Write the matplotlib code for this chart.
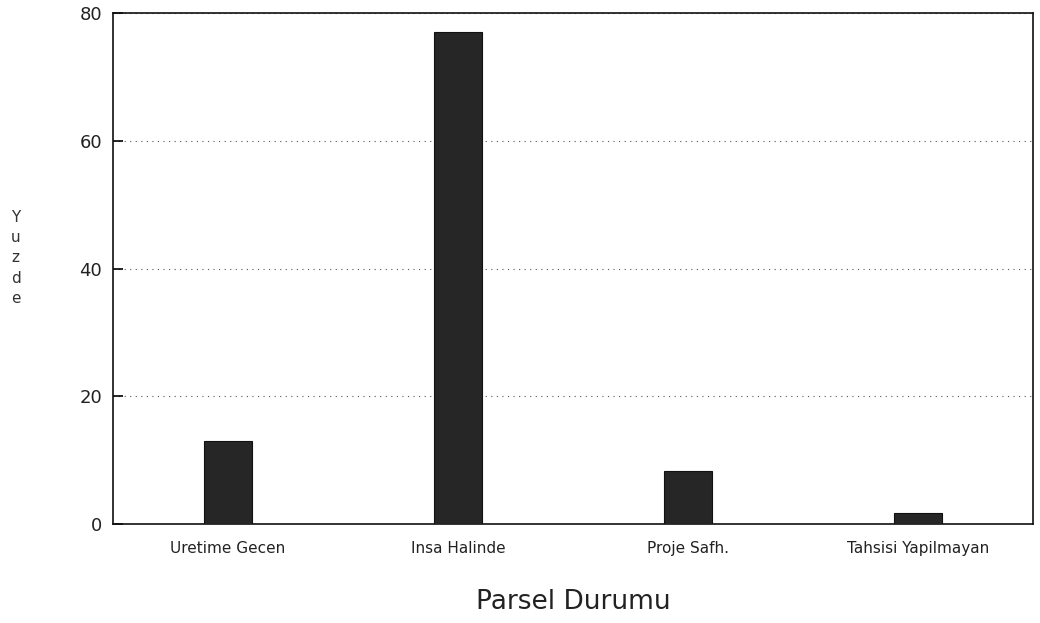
import matplotlib
matplotlib.use("Agg")
import matplotlib.pyplot as plt

# Parsel durumu yuzdeleri
categories = ["Uretime Gecen", "Insa Halinde", "Proje Safh.", "Tahsisi Yapilmayan"]
values = [13.0, 77.0, 8.3, 1.7]
yticks = [0, 20, 40, 60, 80]

fig = plt.figure(figsize=(10.4, 6.23), dpi=100)
ax = fig.add_axes([0.1087, 0.159, 0.8846, 0.820])

x = list(range(len(categories)))
ax.bar(x, values, width=0.21, color="#262626", edgecolor="#111111", linewidth=0.8, zorder=3)

ax.set_xlim(-0.5, 3.5)
ax.set_ylim(0, 80)
ax.set_yticks(yticks)
ax.set_yticklabels([str(t) for t in yticks], fontsize=13, color="#222222")
ax.set_xticks(x)
ax.set_xticklabels(categories, fontsize=11, color="#222222")
ax.tick_params(axis="x", length=0, pad=12)
ax.tick_params(axis="y", direction="in", length=7, width=1.2, pad=8)

ax.yaxis.grid(True, linestyle=(0, (1, 4)), color="#555555", linewidth=0.8, zorder=0)
for s in ax.spines.values():
    s.set_linewidth(1.2)
    s.set_color("#111111")

ax.set_xlabel("Parsel Durumu", fontsize=19, color="#222222", labelpad=24)
fig.text(0.015, 0.586, "Y\nu\nz\nd\ne", fontsize=11, color="#333333",
         ha="center", va="center", linespacing=1.45)

fig.savefig("out.png", dpi=100)
